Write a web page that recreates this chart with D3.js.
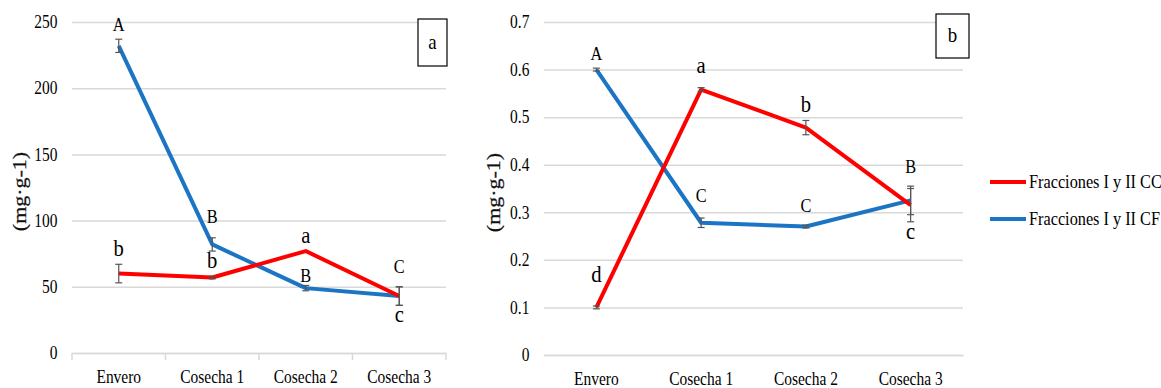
<!DOCTYPE html>
<html>
<head>
<meta charset="utf-8">
<script src="https://cdn.jsdelivr.net/npm/d3@7"></script>
<style>
  html, body { margin: 0; padding: 0; background: #fff; }
  svg { display: block; }
  svg text { font-family: "Liberation Serif", "DejaVu Serif", serif; }
</style>
</head>
<body>
<svg id="chart" width="1161" height="388"></svg>
<script>
// categories and values
const categories = ['Envero', 'Cosecha 1', 'Cosecha 2', 'Cosecha 3'];

// panel a (mg·g-1)
const ccA = [60, 57, 77, 43];
const ccAErr = [7, 1, 0, 7];
const cfA = [232, 82, 49, 43];
const cfAErr = [5, 5, 2, 7];
const ccALetters = ['b', 'b', 'a', 'c'];
const cfALetters = ['A', 'B', 'B', 'C'];
const yTicksA = [0, 50, 100, 150, 200, 250];

// panel b (mg·g-1)
const ccB = [0.10, 0.558, 0.478, 0.315];
const ccBErr = [0.003, 0.004, 0.015, 0.035];
const cfB = [0.60, 0.278, 0.27, 0.325];
const cfBErr = [0.003, 0.01, 0.003, 0.03];
const ccBLetters = ['d', 'a', 'b', 'c'];
const cfBLetters = ['A', 'C', 'C', 'B'];
const yTicksB = [0, 0.1, 0.2, 0.3, 0.4, 0.5, 0.6, 0.7];

const seriesNames = ['Fracciones I y II CC', 'Fracciones I y II CF'];

const RED = '#ff0000';
const BLUE = '#1b75c4';
const GRID = '#d9d9d9';
const FONT = '"Liberation Serif", "DejaVu Serif", serif';
const SX = 0.86; // text in the source is squeezed horizontally

const svg = d3.select('#chart');

function condText(g, x, y, str, size, anchor, sx) {
    return g.append('text')
        .attr('transform', `translate(${x},${y}) scale(${sx || SX},1)`)
        .attr('text-anchor', anchor || 'middle')
        .style('font-family', FONT)
        .style('font-size', size + 'px')
        .attr('fill', '#000')
        .text(str);
}

function drawPanel(cfg) {
    const g = svg.append('g');
    const x = d3.scaleBand().domain(categories).range([cfg.left, cfg.right]);
    const y = d3.scaleLinear().domain([0, cfg.max]).range([cfg.bottom, cfg.top]);

    // gridlines + y tick labels via axisLeft
    const yAxis = d3.axisLeft(y).tickValues(cfg.ticks).tickFormat(cfg.fmt)
        .tickSize(-(cfg.right - cfg.left)).tickPadding(17);
    const ya = g.append('g').attr('transform', `translate(${cfg.left},0)`).call(yAxis)
        .attr('font-family', null).attr('font-size', null);
    ya.select('.domain').remove();
    ya.selectAll('.tick line').attr('stroke', GRID).attr('stroke-width', 1.5);
    ya.selectAll('.tick text')
        .style('font-family', FONT)
        .style('font-size', '18px').attr('fill', '#000')
        .attr('transform', `scale(${SX},1)`);

    // x axis labels
    const xAxis = d3.axisBottom(x).tickSize(0).tickPadding(0);
    const xa = g.append('g').attr('transform', `translate(0,${cfg.bottom})`).call(xAxis)
        .attr('font-family', null).attr('font-size', null);
    xa.select('.domain').attr('stroke', GRID).attr('stroke-width', 1.5);
    xa.selectAll('.tick text')
        .attr('dy', null).attr('y', 0)
        .style('font-family', FONT)
        .style('font-size', '18px').attr('fill', '#000')
        .attr('transform', `translate(0,${cfg.labelDy}) scale(${SX},1)`);
    if (cfg.boundaryTicks) {
        const bounds = d3.range(categories.length + 1).map(i => cfg.left + i * x.step());
        g.selectAll('line.btick').data(bounds).enter().append('line')
            .attr('class', 'btick')
            .attr('x1', d => d).attr('x2', d => d)
            .attr('y1', cfg.bottom).attr('y2', cfg.bottom + 7)
            .attr('stroke', GRID).attr('stroke-width', 1.5);
    }

    // y axis title
    g.append('text')
        .attr('transform', `translate(${cfg.titleX},${(cfg.top + cfg.bottom) / 2 + 4}) rotate(-90) scale(1,${SX})`)
        .attr('text-anchor', 'middle')
        .style('font-family', FONT)
        .style('font-size', '22px')
        .attr('fill', '#111')
        .attr('stroke', '#111').attr('stroke-width', 0.3)
        .text('(mg·g-1)');

    const cx = d => x(d) + x.bandwidth() / 2;
    const line = d3.line().x(d => cx(d.cat)).y(d => y(d.v));

    const series = [
        { vals: cfg.cf, err: cfg.cfErr, letters: cfg.cfLetters, color: BLUE },
        { vals: cfg.cc, err: cfg.ccErr, letters: cfg.ccLetters, color: RED }
    ];

    series.forEach(s => {
        const pts = categories.map((c, i) => ({ cat: c, v: s.vals[i], e: s.err[i] }));
        g.append('path').datum(pts)
            .attr('d', line)
            .attr('fill', 'none')
            .attr('stroke', s.color)
            .attr('stroke-width', 4)
            .attr('stroke-linejoin', 'round');
    });

    series.forEach(s => {
        const pts = categories.map((c, i) => ({ cat: c, v: s.vals[i], e: s.err[i] }));
        const eb = g.append('g');
        pts.forEach(p => {
            if (!p.e) return;
            const xx = cx(p.cat);
            const y1 = y(p.v + p.e), y2 = y(p.v - p.e);
            eb.append('line').attr('x1', xx).attr('x2', xx).attr('y1', y1).attr('y2', y2);
            eb.append('line').attr('x1', xx - 3.5).attr('x2', xx + 3.5).attr('y1', y1).attr('y2', y1);
            eb.append('line').attr('x1', xx - 3.5).attr('x2', xx + 3.5).attr('y1', y2).attr('y2', y2);
        });
        eb.selectAll('line').attr('stroke', '#555').attr('stroke-width', 1.2);
    });

    // significance letters
    series.forEach((s, si) => {
        s.letters.forEach((L, i) => {
            const v = s.vals[i], e = s.err[i];
            const nudge = cfg.nudge[si][i];
            const below = nudge === 'below';
            const isCap = L === L.toUpperCase();
            const yy = below ? y(v - e) + 17 : y(v + e) - 8 - (nudge || 0);
            condText(g, cx(categories[i]), yy, L, isCap ? 19 : 24, 'middle');
        });
    });

    // panel tag box
    g.append('rect')
        .attr('x', cfg.box[0]).attr('y', cfg.box[1])
        .attr('width', cfg.box[2]).attr('height', cfg.box[3])
        .attr('fill', '#fff').attr('stroke', '#000').attr('stroke-width', 1.2);
    condText(g, cfg.box[0] + cfg.box[2] / 2, cfg.box[1] + cfg.box[3] / 2 + 6, cfg.tag, 22, 'middle');
}

drawPanel({
    left: 72, right: 446, top: 22, bottom: 353, max: 250,
    ticks: yTicksA, fmt: d3.format('d'), titleX: 26, boundaryTicks: true, labelDy: 30,
    cc: ccA, ccErr: ccAErr, ccLetters: ccALetters,
    cf: cfA, cfErr: cfAErr, cfLetters: cfALetters,
    nudge: [[0, 7, -5, 6], [0, 0, 0, 'below']],
    box: [418, 19, 29, 47], tag: 'a'
});

drawPanel({
    left: 544, right: 963, top: 22, bottom: 355, max: 0.7,
    ticks: yTicksB, fmt: d => d === 0 ? '0' : d3.format('.1f')(d), titleX: 500, boundaryTicks: false, labelDy: 30,
    cc: ccB, ccErr: ccBErr, ccLetters: ccBLetters,
    cf: cfB, cfErr: cfBErr, cfLetters: cfBLetters,
    nudge: [[0, 8, 5, 5], [16, 7, 0, 'below']],
    box: [936, 14, 33, 44], tag: 'b'
});

// legend
const legend = svg.append('g');
const legendColors = [RED, BLUE];
seriesNames.forEach((name, i) => {
    const ly = 182 + i * 37;
    legend.append('line')
        .attr('x1', 990).attr('x2', 1026).attr('y1', ly).attr('y2', ly)
        .attr('stroke', legendColors[i]).attr('stroke-width', 4);
    condText(legend, 1029, ly + 6, name, 18.5, 'start', 0.88);
});
</script>
</body>
</html>
